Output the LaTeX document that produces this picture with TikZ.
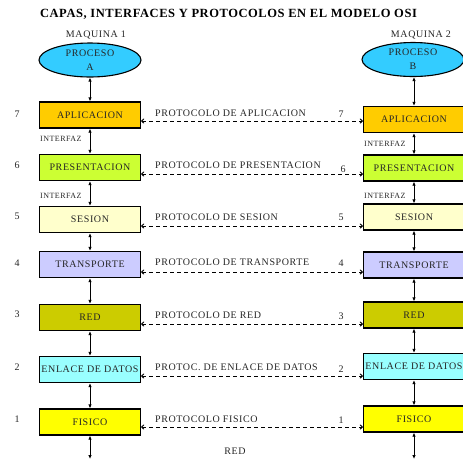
\documentclass[tikz,border=0pt]{standalone}
\usepackage{fontspec}
\setmainfont{Liberation Serif}
\usetikzlibrary{arrows.meta,shapes.geometric}
\definecolor{cproc}{HTML}{33CCFF}
\definecolor{capl}{HTML}{FFCC00}
\definecolor{cpres}{HTML}{CCFF33}
\definecolor{cses}{HTML}{FFFFCC}
\definecolor{ctra}{HTML}{CCCCFF}
\definecolor{cred}{HTML}{CCCC00}
\definecolor{cenl}{HTML}{99FFFF}
\definecolor{cfis}{HTML}{FFFF00}
\newcommand{\txtfont}{\fontsize{10}{11}\selectfont\addfontfeature{LetterSpace=6}}
\tikzset{
  layer/.style={draw=black, line width=1.3pt, minimum width=101pt, minimum height=26pt, inner sep=0pt, font=\txtfont, text=black!85},
  proc/.style={ellipse, draw=black, line width=1.1pt, fill=cproc, minimum width=102pt, minimum height=34pt, inner sep=0pt, align=center, font=\fontsize{10}{14}\selectfont\addfontfeature{LetterSpace=6}, text=black!85},
  vlink/.style={{Latex[length=4pt,width=3.5pt]}-{Latex[length=4pt,width=3.5pt]}, line width=0.9pt},
  hlink/.style={{To[length=3pt,width=5pt]}-{To[length=3pt,width=5pt]}, dashed, dash pattern=on 4pt off 3pt, line width=0.9pt},
  plabel/.style={anchor=west, inner sep=0pt, font=\txtfont, text=black!85},
  num/.style={inner sep=0pt, font=\txtfont, text=black!85},
  iflabel/.style={anchor=west, inner sep=0pt, font=\fontsize{8}{9}\selectfont\addfontfeature{LetterSpace=6}, text=black!85},
}
\begin{document}
\begin{tikzpicture}[x=1pt,y=-1pt]
\useasboundingbox (0,0) rectangle (463,459);
\node[font=\fontsize{12.5}{14}\selectfont\bfseries\addfontfeature{LetterSpace=4.5}, inner sep=0pt] (title) at (228.5,14) {CAPAS, INTERFACES Y PROTOCOLOS EN EL MODELO OSI};
\node[num] (m1) at (96,35) {MAQUINA 1};
\node[num] (m2) at (421,35) {MAQUINA 2};
\node[proc] (pa) at (90,60) {PROCESO\\A};
\node[proc] (pb) at (413,59.5) {PROCESO\\B};
% left stack
\node[layer, fill=capl] (la) at (90,115) {APLICACION};
\node[layer, fill=cpres] (lp) at (90,167.5) {PRESENTACION};
\node[layer, fill=cses] (ls) at (90,219.5) {SESION};
\node[layer, fill=ctra] (lt) at (90,264.5) {TRANSPORTE};
\node[layer, fill=cred] (lr) at (90,317.5) {RED};
\node[layer, fill=cenl] (le) at (90,369.5) {ENLACE DE DATOS};
\node[layer, fill=cfis] (lf) at (90,422) {FISICO};
% right stack
\node[layer, fill=capl] (ra) at (414,119.5) {APLICACION};
\node[layer, fill=cpres] (rp) at (414,168) {PRESENTACION};
\node[layer, fill=cses] (rs) at (414,217) {SESION};
\node[layer, fill=ctra] (rt) at (414,265) {TRANSPORTE};
\node[layer, fill=cred] (rr) at (414,315) {RED};
\node[layer, fill=cenl] (re) at (414,366.5) {ENLACE DE DATOS};
\node[layer, fill=cfis] (rf) at (414,419) {FISICO};
% layer numbers
\node[num] (n7) at (17,114) {7};
\node[num] (n6) at (17,165) {6};
\node[num] (n5) at (17,216) {5};
\node[num] (n4) at (17,263) {4};
\node[num] (n3) at (17,314) {3};
\node[num] (n2) at (17,367) {2};
\node[num] (n1) at (17,419) {1};
% vertical links
\coordinate (lbot) at (90,459);
\coordinate (rbot) at (414,459);
\draw[vlink] (pa) -- (la);
\draw[vlink] (la) -- (lp);
\draw[vlink] (lp) -- (ls);
\draw[vlink] (ls) -- (lt);
\draw[vlink] (lt) -- (lr);
\draw[vlink] (lr) -- (le);
\draw[vlink] (le) -- (lf);
\draw[vlink] (lf) -- (lbot);
\draw[vlink] (pb.south -| ra) -- (ra);
\draw[vlink] (ra) -- (rp);
\draw[vlink] (rp) -- (rs);
\draw[vlink] (rs) -- (rt);
\draw[vlink] (rt) -- (rr);
\draw[vlink] (rr) -- (re);
\draw[vlink] (re) -- (rf);
\draw[vlink] (rf) -- (rbot);
% interface labels
\node[iflabel] (if1) at (40,139) {INTERFAZ};
\node[iflabel] (if2) at (40,196) {INTERFAZ};
\node[iflabel] (if3) at (364,144) {INTERFAZ};
\node[iflabel] (if4) at (364,196) {INTERFAZ};
% protocol links
\draw[hlink] (la.east |- 0,121) -- (ra.west |- 0,121);
\draw[hlink] (lp.east |- 0,174) -- (rp.west |- 0,174);
\draw[hlink] (ls.east |- 0,226) -- (rs.west |- 0,226);
\draw[hlink] (lt.east |- 0,272) -- (rt.west |- 0,272);
\draw[hlink] (lr.east |- 0,324) -- (rr.west |- 0,324);
\draw[hlink] (le.east |- 0,376) -- (re.west |- 0,376);
\draw[hlink] (lf.east |- 0,427) -- (rf.west |- 0,427);
\node[plabel] (p7) at (155,113) {PROTOCOLO DE APLICACION};
\node[plabel] (p6) at (155,165) {PROTOCOLO DE PRESENTACION};
\node[plabel] (p5) at (155,217) {PROTOCOLO DE SESION};
\node[plabel] (p4) at (155,262) {PROTOCOLO DE TRANSPORTE};
\node[plabel] (p3) at (155,315) {PROTOCOLO DE RED};
\node[plabel] (p2) at (155,367) {PROTOC. DE ENLACE DE DATOS};
\node[plabel] (p1) at (155,419) {PROTOCOLO FISICO};
\node[num] (q7) at (341,114) {7};
\node[num] (q6) at (343,169) {6};
\node[num] (q5) at (341,217) {5};
\node[num] (q4) at (341,263) {4};
\node[num] (q3) at (341,316) {3};
\node[num] (q2) at (341,369) {2};
\node[num] (q1) at (341,420) {1};
\node[num] (redlbl) at (235,451) {RED};
\end{tikzpicture}
\end{document}
